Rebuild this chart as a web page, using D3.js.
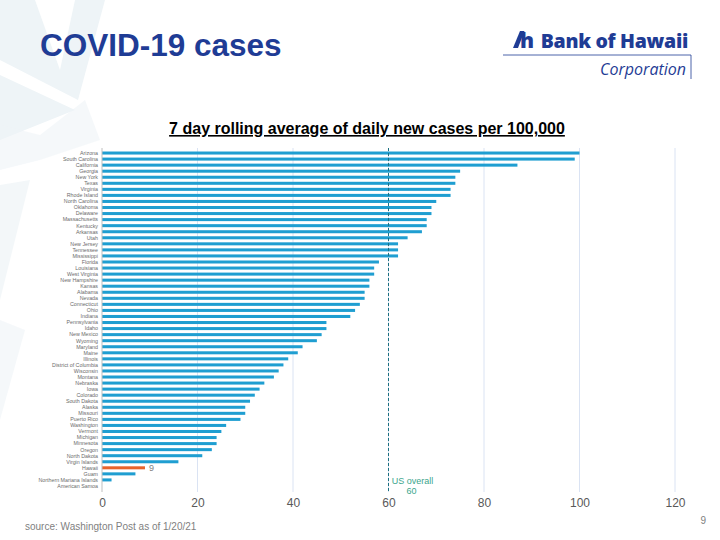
<!DOCTYPE html>
<html>
<head>
<meta charset="utf-8">
<script src="https://cdn.jsdelivr.net/npm/d3@7"></script>
<style>
  html, body { margin: 0; padding: 0; background: #fff; }
  svg { display: block; }
</style>
</head>
<body>
<svg id="chart" width="720" height="540"></svg>
<script>
const states = ["Arizona","South Carolina","California","Georgia","New York","Texas","Virginia","Rhode Island","North Carolina","Oklahoma","Delaware","Massachusetts","Kentucky","Arkansas","Utah","New Jersey","Tennessee","Mississippi","Florida","Louisiana","West Virginia","New Hampshire","Kansas","Alabama","Nevada","Connecticut","Ohio","Indiana","Pennsylvania","Idaho","New Mexico","Wyoming","Maryland","Maine","Illinois","District of Columbia","Wisconsin","Montana","Nebraska","Iowa","Colorado","South Dakota","Alaska","Missouri","Puerto Rico","Washington","Vermont","Michigan","Minnesota","Oregon","North Dakota","Virgin Islands","Hawaii","Guam","Northern Mariana Islands","American Samoa"];
const cases = [100,99,87,75,74,74,73,73,70,69,69,68,68,67,64,62,62,62,58,57,57,56,56,55,55,54,53,52,47,47,46,45,42,41,39,38,37,36,34,33,32,31,30,30,29,26,25,24,24,23,21,16,9,7,2,0];
const xTicks = [0,20,40,60,80,100,120];
const usOverall = 60;
const highlight = "Hawaii";

const svg = d3.select("#chart");

// decorative background shapes
const bg = svg.append("g").attr("fill", "#eef4f7");
bg.append("path").attr("d", "M0,0 L35,0 L60,70 L75,0 L105,0 L78,100 L0,60 Z");
bg.append("path").attr("d", "M0,75 L75,110 L0,140 Z");
bg.append("path").attr("d", "M0,125 L40,135 L85,100 L100,140 L40,160 L0,170 Z").attr("opacity", 0.6);
bg.append("path").attr("d", "M0,185 L30,180 L0,300 Z").attr("opacity", 0.7);
bg.append("path").attr("d", "M0,320 L25,330 L0,420 Z").attr("opacity", 0.6);

// header
svg.append("text").attr("x", 40).attr("y", 56)
  .attr("font-family", "Liberation Sans, Arial, sans-serif").attr("font-weight", "bold")
  .attr("font-size", 31.5).attr("fill", "#1f3c95").text("COVID-19 cases");

// logo
const logo = svg.append("g").attr("fill", "#1f3c95");
logo.append("path").attr("d", "M513,48 L520,31 L524.5,31 L518,48 Z");
logo.append("text").attr("x", 520).attr("y", 48).attr("font-family", "Open Sans, sans-serif")
  .attr("font-weight", "800").attr("font-size", 21).text("h");
logo.append("text").attr("x", 688).attr("y", 48).attr("text-anchor", "end")
  .attr("font-family", "Open Sans, sans-serif").attr("font-weight", "800")
  .attr("font-size", 19.5).attr("letter-spacing", -0.3).text("Bank of Hawaii");
svg.append("line").attr("x1", 503).attr("x2", 691).attr("y1", 55).attr("y2", 55)
  .attr("stroke", "#1f3c95").attr("stroke-width", 0.8);
svg.append("line").attr("x1", 691).attr("x2", 691).attr("y1", 55).attr("y2", 79)
  .attr("stroke", "#1f3c95").attr("stroke-width", 0.8);
logo.append("text").attr("x", 686).attr("y", 75).attr("text-anchor", "end")
  .attr("font-family", "Open Sans, sans-serif").attr("font-style", "italic")
  .attr("font-size", 16).text("Corporation");

// chart title
svg.append("text").attr("x", 367).attr("y", 134).attr("text-anchor", "middle")
  .attr("font-family", "Liberation Sans, Arial, sans-serif").attr("font-weight", "bold")
  .attr("font-size", 16).attr("fill", "#000")
  .attr("text-decoration", "underline")
  .text("7 day rolling average of daily new cases per 100,000");

// scales
const x = d3.scaleLinear().domain([0, 120]).range([102, 675]);
const y = d3.scaleBand().domain(states).range([150, 489]).paddingInner(0.5).paddingOuter(0.25);
const plotTop = 148, plotBottom = 492;

// gridlines
svg.append("g").selectAll("line").data(xTicks.filter(d => d > 0)).join("line")
  .attr("x1", d => x(d)).attr("x2", d => x(d)).attr("y1", plotTop).attr("y2", plotBottom)
  .attr("stroke", "#dae3f3").attr("stroke-width", 1);

// bars
svg.append("g").selectAll("rect").data(states).join("rect")
  .attr("x", x(0))
  .attr("y", (d) => y(d))
  .attr("width", (d, i) => Math.max(0, x(cases[i]) - x(0)))
  .attr("height", y.bandwidth())
  .attr("fill", d => d === highlight ? "#e8632b" : "#1f9ed1");

// zero axis line
svg.append("line").attr("x1", x(0)).attr("x2", x(0)).attr("y1", plotTop).attr("y2", plotBottom)
  .attr("stroke", "#bfbfbf").attr("stroke-width", 1);

// category labels
svg.append("g").selectAll("text").data(states).join("text")
  .attr("x", 98).attr("y", d => y(d) + y.bandwidth() / 2)
  .attr("dy", "0.35em").attr("text-anchor", "end")
  .attr("font-family", "Liberation Sans, Arial, sans-serif").attr("font-size", 5.3)
  .attr("fill", "#6b6b6b").text(d => d);

// highlight value label
const hi = states.indexOf(highlight);
svg.append("text").attr("x", x(cases[hi]) + 4).attr("y", y(highlight) + y.bandwidth() / 2)
  .attr("dy", "0.35em").attr("font-family", "Liberation Sans, Arial, sans-serif")
  .attr("font-size", 9).attr("fill", "#7f7f7f").text(cases[hi]);

// US overall line
svg.append("line").attr("x1", x(usOverall)).attr("x2", x(usOverall)).attr("y1", plotTop).attr("y2", plotBottom)
  .attr("stroke", "#1b6f80").attr("stroke-width", 1).attr("stroke-dasharray", "3,2");
const usl = svg.append("text").attr("font-family", "Liberation Sans, Arial, sans-serif")
  .attr("font-size", 9).attr("fill", "#3aa58c").attr("text-anchor", "middle");
usl.append("tspan").attr("x", x(usOverall) + 24).attr("y", 484).text("US overall");
usl.append("tspan").attr("x", x(usOverall) + 23).attr("y", 494).text(usOverall);

// x axis
const xAxis = d3.axisBottom(x).tickValues(xTicks).tickSize(0).tickPadding(6);
const ax = svg.append("g").attr("transform", `translate(0,${plotBottom})`).call(xAxis);
ax.select(".domain").remove();
ax.selectAll("text").attr("font-family", "Liberation Sans, Arial, sans-serif")
  .attr("font-size", 12).attr("fill", "#595959");

// footer
svg.append("text").attr("x", 25).attr("y", 530)
  .attr("font-family", "Liberation Sans, Arial, sans-serif").attr("font-size", 10)
  .attr("fill", "#7f7f7f").text("source: Washington Post as of 1/20/21");
svg.append("text").attr("x", 706).attr("y", 524).attr("text-anchor", "end")
  .attr("font-family", "Liberation Sans, Arial, sans-serif").attr("font-size", 10)
  .attr("fill", "#7f7f7f").text("9");
</script>
</body>
</html>
